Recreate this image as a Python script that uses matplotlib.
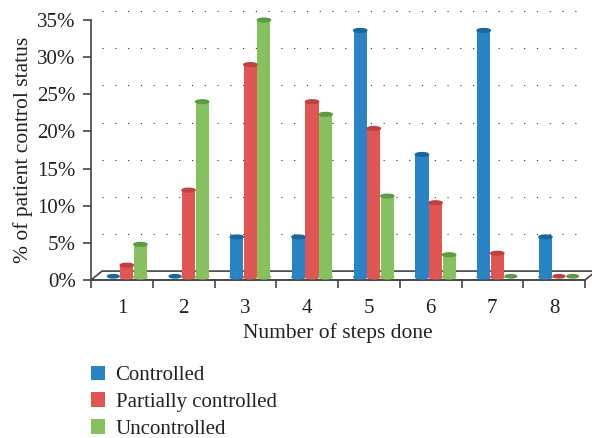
import matplotlib.pyplot as plt
from matplotlib.patches import Ellipse, Polygon, Patch
import numpy as np

# data
steps = ['1', '2', '3', '4', '5', '6', '7', '8']
controlled = [0.0, 0.0, 5.8, 5.8, 33.6, 16.9, 33.6, 5.8]
partial = [2.0, 12.1, 29.0, 24.0, 20.4, 10.4, 3.6, 0.0]
uncontrolled = [4.8, 24.0, 35.0, 22.3, 11.3, 3.4, 0.0, 0.0]
series_names = ['Controlled', 'Partially controlled', 'Uncontrolled']
yticks = [0, 5, 10, 15, 20, 25, 30, 35]

colors = ['#2a83c4', '#e05654', '#86c05f']
tops = ['#16689e', '#c0403e', '#5d9a44']

plt.rcParams['font.family'] = ['Liberation Serif', 'DejaVu Serif']

fig = plt.figure(figsize=(5.92, 4.38), dpi=100)
ax = fig.add_axes([91/592, 1 - 280/438, (585 - 91)/592, 260/438])

x = np.arange(1, len(steps) + 1)
w = 0.22
dx, dy = 0.18, 1.2   # depth offset of back wall
shift = 0.08
base = 0.4

# floor
floor = Polygon([[0.5, 0], [8.5, 0], [8.5 + dx, dy], [0.5 + dx, dy]], closed=True,
                facecolor='white', edgecolor='#444444', lw=1.2, clip_on=False, zorder=1)
ax.add_patch(floor)

# dotted grid on back wall
for t in yticks[1:]:
    ax.plot([0.5 + dx, 8.5], [t + dy, t + dy], color='#333333', lw=0.8,
            linestyle=(0, (1, 10.5)), clip_on=False, zorder=0.5)

for i, vals in enumerate([controlled, partial, uncontrolled]):
    xs = x + shift + (i - 1) * w
    for xx, v in zip(xs, vals):
        if v > base:
            ax.bar(xx, v - base, bottom=base, width=w * 0.97, color=colors[i],
                   edgecolor='none', zorder=3, clip_on=False)
            ax.add_patch(Ellipse((xx, base), w * 0.97, 0.5, color=colors[i], zorder=3,
                                 clip_on=False))
            ax.add_patch(Ellipse((xx, v), w * 0.97, 0.5, color=tops[i], zorder=4,
                                 clip_on=False))
        else:
            ax.add_patch(Ellipse((xx, base + 0.1), w * 0.85, 0.45, color=tops[i], zorder=4,
                                 clip_on=False))

ax.set_xlim(0.5, 8.5)
ax.set_ylim(0, 35)
ax.set_yticks(yticks)
ax.set_yticklabels([f'{t}%' for t in yticks])
ax.set_xticks(x)
ax.set_xticklabels(steps)
ax.set_xticks(np.arange(0.5, 9.0, 1.0), minor=True)
ax.tick_params(axis='x', which='major', length=0, pad=14, labelsize=15, colors='#222222')
ax.tick_params(axis='x', which='minor', length=6, width=1.2, color='#444444', direction='out')
ax.tick_params(axis='y', length=6, width=1.2, color='#444444', labelsize=15,
               labelcolor='#222222', pad=5)
for s in ['top', 'right']:
    ax.spines[s].set_visible(False)
for s in ['left', 'bottom']:
    ax.spines[s].set_color('#444444')
    ax.spines[s].set_linewidth(1.2)
ax.patch.set_visible(False)

ax.set_xlabel('Number of steps done', fontsize=15.5, color='#222222', labelpad=3)
ax.set_ylabel('% of patient control status', fontsize=15.5, color='#222222', labelpad=3)

handles = [Patch(facecolor=c, edgecolor='none') for c in colors]
fig.legend(handles, series_names, loc='upper left', bbox_to_anchor=(76/592, 1 - 351/438),
           frameon=False, fontsize=15, handlelength=0.7, handleheight=0.7,
           handletextpad=0.5, labelspacing=0.35, labelcolor='#222222', borderpad=0.2)

fig.savefig('out.png', dpi=100)
